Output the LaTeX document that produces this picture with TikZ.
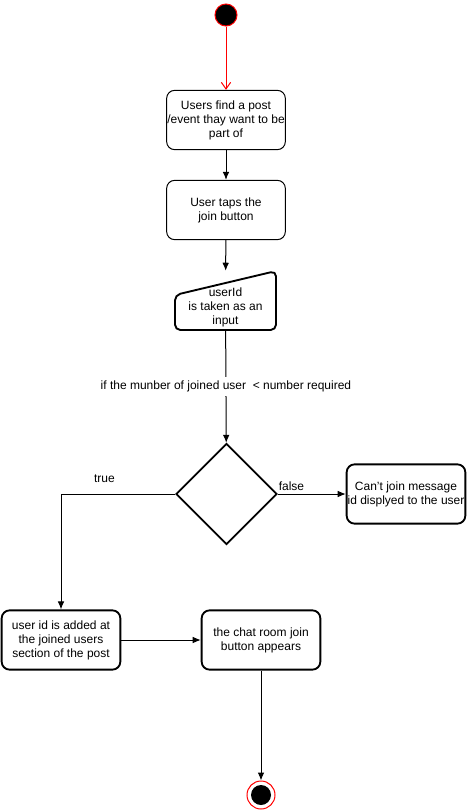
\documentclass[tikz,border=0pt]{standalone}
\usepackage{fontspec}
\setmainfont{Liberation Sans}
\usetikzlibrary{shapes.geometric, positioning, arrows.meta}

\tikzset{
    act/.style={rectangle, rounded corners=6pt, draw, line width=0.75pt, minimum width=89pt, minimum height=44.5pt, inner xsep=0pt, align=center, font=\fontsize{9}{10.5}\selectfont},
    actbold/.style={act, line width=1.4pt},
    flow/.style={-{Latex[length=6pt, width=5pt]}, line width=0.75pt},
    lbl/.style={font=\fontsize{9}{10.5}\selectfont, inner sep=1pt}
}

\begin{document}
\begin{tikzpicture}[x=0.75pt, y=-0.75pt]
        \useasboundingbox (0, 0) rectangle (467, 811);

        \node[circle, draw=red, fill=black, line width=0.75pt, minimum size=16.5pt, inner sep=0pt] (start) at (226, 15) {};

        \node[act] (find) at (226, 120) {Users find a post\\/event thay want to be\\part of};
        \node[act] (tap) at (226, 210) {User taps the\\ join button};
        \node[rectangle, minimum width=75.75pt, minimum height=44.25pt, inner sep=0pt] (input) at (225.5, 300.5) {};
        \node[lbl, align=center] at (225.5, 307.5) {userId\\is taken as an\\ input};
        \draw[line width=1.4pt, rounded corners=4pt] (175, 295) -- (276, 271) -- (276, 330) -- (175, 330) -- cycle;

        \node[diamond, draw, line width=1.4pt, minimum width=75.75pt, minimum height=75.75pt, aspect=1, inner sep=0pt] (check) at (226.5, 494) {};

        \node[actbold] (cant) at (406, 494) {Can't join message\\id displyed to the user};
        \node[actbold] (added) at (61, 640) {user id is added at\\the joined users\\section of the post};
        \node[actbold] (chat) at (261, 640) {the chat room join\\button appears};

        \node[circle, draw=red, line width=0.75pt, minimum size=21pt, inner sep=0pt] (stop) at (261, 795) {};
        \node[circle, fill=black, minimum size=15pt, inner sep=0pt] at (stop) {};

        \draw[red, line width=0.75pt, -{Straight Barb[length=5pt, width=7pt]}] (start) to (find);
        \draw[flow] (find) to (tap);
        \draw[flow] (tap) to (input);
        \draw[flow] (input) to node[lbl, fill=white, inner sep=3pt] {if the munber of joined user \ < number required} (check);
        \draw[flow] (check.east) to node[lbl, above=1pt, pos=0.2] {false} (cant);
        \draw[flow] (check.west) -| node[lbl, above=7pt, pos=0.31] {true} (added);
        \draw[flow] (added) to (chat);
        \draw[flow] (chat) to (stop);
    \end{tikzpicture}
\end{document}
